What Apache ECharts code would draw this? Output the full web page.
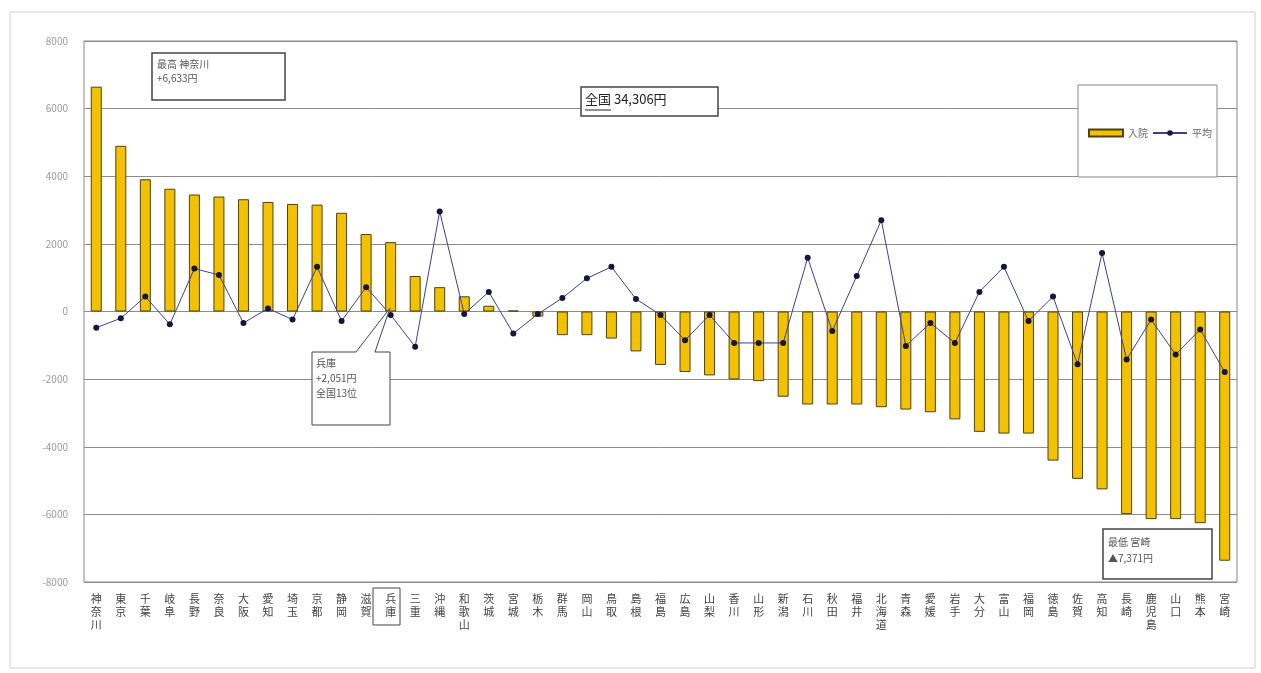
<!DOCTYPE html>
<html>
<head>
<meta charset="utf-8">
<script src="https://cdn.jsdelivr.net/npm/echarts@6/dist/echarts.min.js"></script>
<style>
  html, body { margin: 0; padding: 0; background: #fff; }
  #chart { width: 1261px; height: 673px; }
</style>
</head>
<body>
<div id="chart"></div>
<script>
// 都道府県（差額の大きい順）
const prefectures = ['神奈川', '東京', '千葉', '岐阜', '長野', '奈良', '大阪', '愛知', '埼玉', '京都',
  '静岡', '滋賀', '兵庫', '三重', '沖縄', '和歌山', '茨城', '宮城', '栃木', '群馬',
  '岡山', '鳥取', '島根', '福島', '広島', '山梨', '香川', '山形', '新潟', '石川',
  '秋田', '福井', '北海道', '青森', '愛媛', '岩手', '大分', '富山', '福岡', '徳島',
  '佐賀', '高知', '長崎', '鹿児島', '山口', '熊本', '宮崎']

// 入院（全国平均との差、円）
const inpatient = [6650, 4900, 3910, 3630, 3460, 3400, 3320, 3240, 3180, 3160,
  2920, 2290, 2051, 1050, 720, 450, 170, 30, -150, -700,
  -700, -800, -1180, -1580, -1790, -1890, -2010, -2060, -2520, -2750,
  -2750, -2750, -2830, -2900, -2980, -3190, -3560, -3610, -3610, -4410,
  -4950, -5260, -5990, -6140, -6140, -6260, -7371]

// 平均
const average = [-480, -200, 440, -380, 1270, 1080, -340, 90, -240, 1320,
  -280, 720, -100, -1040, 2960, -75, 580, -650, -75, 400,
  980, 1320, 370, -100, -850, -100, -930, -930, -930, 1590,
  -580, 1050, 2700, -1020, -340, -930, 580, 1320, -280, 440,
  -1560, 1730, -1420, -240, -1270, -530, -1790]

const yTicks = [-8000, -6000, -4000, -2000, 0, 2000, 4000, 6000, 8000]

const font = '"Noto Sans CJK JP", sans-serif'
const chart = echarts.init(document.getElementById('chart'))

const option = {
  animation: false,
  textStyle: { fontFamily: font },
  grid: { left: 84, right: 24, top: 41, bottom: 91, show: true, borderColor: '#888', borderWidth: 1 },
  legend: {
    left: 1083, top: 123,
    itemWidth: 34, itemHeight: 7, itemGap: 4,
    textStyle: { fontSize: 10, color: '#666', fontFamily: font },
    data: [
      { name: '入院', icon: 'rect' },
      { name: '平均' }
    ]
  },
  xAxis: {
    type: 'category',
    data: prefectures,
    axisLine: { show: false },
    axisTick: { show: false },
    axisLabel: {
      interval: 0,
      margin: 10,
      color: '#444',
      fontSize: 11,
      lineHeight: 13,
      fontFamily: font,
      formatter: v => v.split('').join('\n')
    }
  },
  yAxis: {
    type: 'value',
    min: yTicks[0],
    max: yTicks[yTicks.length - 1],
    interval: 2000,
    axisLine: { show: false },
    axisTick: { show: false },
    axisLabel: { color: '#999', fontSize: 10, margin: 16, fontFamily: font, formatter: v => String(v) },
    splitLine: { lineStyle: { color: '#8c8c8c', width: 1 } }
  },
  series: [
    {
      name: '入院',
      type: 'bar',
      data: inpatient,
      barWidth: 11,
      itemStyle: { color: '#F2C100', borderColor: '#4f4210', borderWidth: 1 }
    },
    {
      name: '平均',
      type: 'line',
      data: average,
      symbol: 'circle',
      symbolSize: 6,
      lineStyle: { color: '#3d3d94', width: 1 },
      itemStyle: { color: '#15153f' }
    }
  ],
  graphic: [
    // 外枠
    { type: 'rect', shape: { x: 10, y: 12, width: 1245, height: 656 }, style: { fill: 'none', stroke: '#cfcfcf', lineWidth: 1 }, z: 0 },
    // 最高
    { type: 'rect', shape: { x: 152, y: 53, width: 133, height: 47 }, style: { fill: '#fff', stroke: '#444', lineWidth: 1.5 }, z: 10 },
    { type: 'text', left: 157, top: 57, style: { text: '最高 神奈川\n+6,633円', fill: '#555', font: '10px ' + font, lineHeight: 14 }, z: 11 },
    // 全国
    { type: 'rect', shape: { x: 581, y: 87, width: 137, height: 29 }, style: { fill: '#fff', stroke: '#444', lineWidth: 1.5 }, z: 10 },
    { type: 'text', left: 585, top: 93, style: { text: '全国 34,306円', fill: '#222', font: '13px ' + font }, z: 11 },
    { type: 'line', shape: { x1: 585, y1: 110, x2: 611, y2: 110 }, style: { stroke: '#222', lineWidth: 1 }, z: 11 },
    // 凡例枠
    { type: 'rect', shape: { x: 1078, y: 85, width: 139, height: 92 }, style: { fill: '#fff', stroke: '#888', lineWidth: 1 }, z: 1 },
    // 兵庫
    { type: 'polygon', shape: { points: [[312, 352], [356, 352], [390, 308], [375, 352], [390, 352], [390, 425], [312, 425]] }, style: { fill: '#fff', stroke: '#444', lineWidth: 1 }, z: 10 },
    { type: 'text', left: 316, top: 356, style: { text: '兵庫\n+2,051円\n全国13位', fill: '#555', font: '10px ' + font, lineHeight: 15 }, z: 11 },
    { type: 'rect', shape: { x: 373, y: 588, width: 27, height: 37 }, style: { fill: 'none', stroke: '#444', lineWidth: 1 }, z: 11 },
    // 最低
    { type: 'rect', shape: { x: 1103, y: 529, width: 109, height: 50 }, style: { fill: '#fff', stroke: '#444', lineWidth: 1.5 }, z: 10 },
    { type: 'text', left: 1108, top: 534, style: { text: '最低 宮崎\n▲7,371円', fill: '#555', font: '10px ' + font, lineHeight: 16 }, z: 11 }
  ]
}

chart.setOption(option)
</script>
</body>
</html>
